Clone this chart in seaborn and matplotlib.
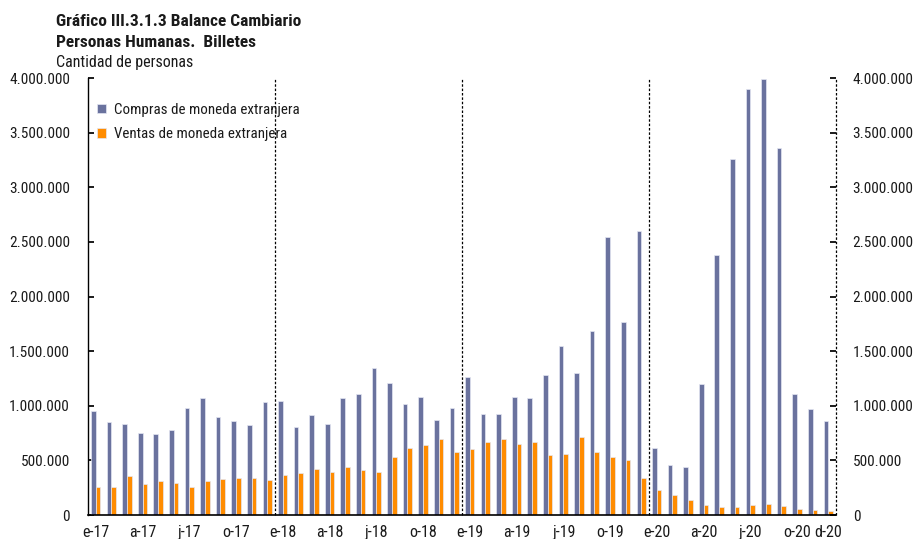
import matplotlib
matplotlib.use("Agg")
import matplotlib.pyplot as plt
import matplotlib.ticker as mticker
import seaborn as sns
import pandas as pd

# ---- data ----
months = [f"{y}-{m:02d}" for y in (2017, 2018, 2019, 2020) for m in range(1, 13)]
compras = [
    955000, 855000, 833000, 750000, 738000, 775000, 977000, 1068000, 897000, 858000, 827000, 1031000,
    1046000, 802000, 918000, 830000, 1068000, 1105000, 1343000, 1208000, 1016000, 1080000, 870000, 979000,
    1268000, 924000, 924000, 1083000, 1068000, 1281000, 1547000, 1297000, 1687000, 2550000, 1769000, 2600000,
    616000, 458000, 439000, 1200000, 2382000, 3262000, 3905000, 3990000, 3360000, 1105000, 973000, 858000,
]
ventas = [
    259000, 253000, 357000, 287000, 308000, 293000, 259000, 314000, 330000, 342000, 342000, 323000,
    363000, 384000, 418000, 397000, 439000, 412000, 390000, 534000, 616000, 644000, 693000, 577000,
    601000, 665000, 699000, 650000, 665000, 546000, 561000, 714000, 577000, 528000, 506000, 342000,
    232000, 184000, 141000, 94000, 74000, 76000, 88000, 97000, 82000, 52000, 47000, 40000,
]
series_names = ["Compras de moneda extranjera", "Ventas de moneda extranjera"]
tick_idx = [0, 3, 6, 9, 12, 15, 18, 21, 24, 27, 30, 33, 36, 39, 42, 45, 47]
tick_labels = ["e-17", "a-17", "j-17", "o-17", "e-18", "a-18", "j-18", "o-18",
               "e-19", "a-19", "j-19", "o-19", "e-20", "a-20", "j-20", "o-20", "d-20"]
yticks = [0, 500000, 1000000, 1500000, 2000000, 2500000, 3000000, 3500000, 4000000]

df = pd.DataFrame({
    "mes": months * 2,
    "valor": compras + ventas,
    "serie": [series_names[0]] * len(months) + [series_names[1]] * len(months),
})

sns.set_theme(style="white")
plt.rcParams["font.family"] = ["Roboto Condensed", "Roboto", "DejaVu Sans"]
plt.rcParams["font.stretch"] = "condensed"
plt.rcParams["text.color"] = "#1a1a1a"

fig = plt.figure(figsize=(9.13, 5.39), dpi=100)
ax = fig.add_axes([0.0964, 0.0445, 0.8193, 0.8105])

sns.barplot(data=df, x="mes", y="valor", hue="serie", order=months,
            hue_order=series_names, palette=["#6A729E", "#FF8C00"], saturation=1,
            width=0.6, edgecolor="#e4e7f2", linewidth=0.5, ax=ax, legend=True)

ax.set_xlim(-0.5, len(months) - 0.5)
ax.set_ylim(0, 4000000)
ax.set_xlabel("")
ax.set_ylabel("")
ax.set_xticks(tick_idx)
ax.set_xticklabels(tick_labels, fontsize=11.5)
ax.set_yticks(yticks)
fmt = mticker.FuncFormatter(lambda v, p: f"{int(v):,}".replace(",", "."))
ax.yaxis.set_major_formatter(fmt)
ax.tick_params(axis="y", direction="in", length=4, labelsize=11, color="black",
               labelcolor="#1a1a1a", left=True, pad=13)
ax.tick_params(axis="x", length=0, pad=7, labelcolor="#1a1a1a")

ax.spines["top"].set_visible(False)
ax.spines["right"].set_visible(False)
ax.spines["left"].set_color("black")
ax.spines["bottom"].set_color("black")
ax.spines["left"].set_linewidth(1.0)
ax.spines["bottom"].set_linewidth(1.2)

for xv in (11.5, 23.5, 35.5, 47.5):
    ax.axvline(xv, color="black", linestyle=(0, (2, 1.5)), linewidth=0.9, clip_on=False)

ax2 = ax.twinx()
ax2.set_ylim(0, 4000000)
ax2.set_yticks(yticks)
ax2.yaxis.set_major_formatter(fmt)
ax2.tick_params(axis="y", direction="in", length=4, labelsize=11, color="black",
                labelcolor="#1a1a1a", right=True, pad=12)
for s in ("top", "left", "bottom", "right"):
    ax2.spines[s].set_visible(False)

leg = ax.legend(loc="upper left", bbox_to_anchor=(-0.006, 0.975), frameon=False,
                fontsize=10.8, handlelength=0.6, handleheight=0.6, handletextpad=0.5,
                labelspacing=0.7)

fig.text(0.061, 0.960, "Gráfico III.3.1.3 Balance Cambiario", fontsize=12.5, fontweight="bold", va="center")
fig.text(0.061, 0.921, "Personas Humanas.  Billetes", fontsize=12.5, fontweight="bold", va="center")
fig.text(0.061, 0.884, "Cantidad de personas", fontsize=11.5, va="center")

fig.savefig("out.png", dpi=100)
